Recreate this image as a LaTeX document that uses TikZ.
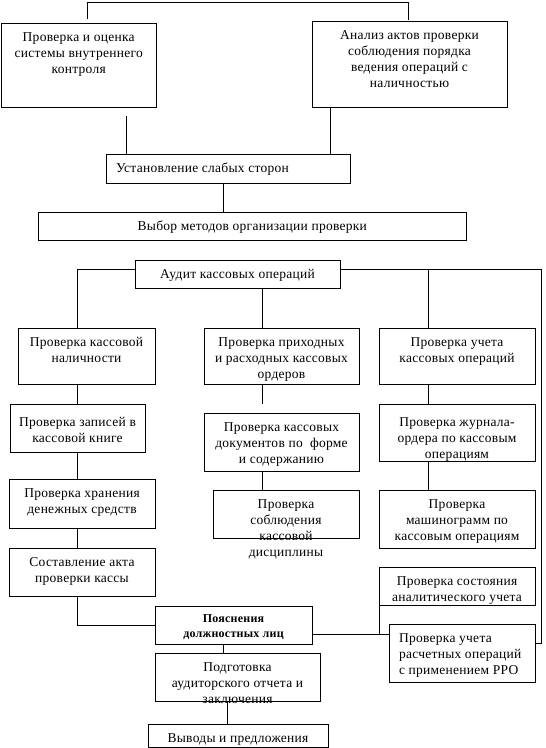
\documentclass[tikz,border=0pt]{standalone}
\usepackage{fontspec}
\setmainfont[LetterSpace=2]{Liberation Serif}
\tikzset{
  box/.style={draw, line width=0.9pt, inner sep=0pt, outer sep=0pt, font=\fontsize{13.5}{16}\selectfont},
  conn/.style={line width=0.9pt}
}
% name, x1, y1, x2, y2, alignment, text
\newcommand\Bx[7]{%
  \node[box, anchor=north west] (#1) at (#2pt,-#3pt)
  {\parbox[c][\dimexpr #5pt-#3pt\relax][t]{\dimexpr #4pt-#2pt\relax}{\vspace*{8.5pt}#6\rule{0pt}{9.5pt}#7}};}
\begin{document}
\begin{tikzpicture}
\fill[white] (0,0) rectangle (546pt,-748pt);
\useasboundingbox (0,0) rectangle (546pt,-748pt);

\Bx{A}{1.4}{23}{156}{107}{\centering}{Проверка и оценка\\системы внутреннего\\контроля}
\Bx{B}{312}{21}{507}{107}{\centering}{Анализ актов проверки\\соблюдения порядка\\ведения операций с\\наличностью}
\Bx{C}{106}{154}{350}{183}{\raggedright\leftskip=10pt}{Установление слабых сторон}
\Bx{D}{38}{212}{466.6}{240}{\centering}{Выбор методов организации проверки}
\Bx{E}{135}{260}{340}{288}{\centering}{Аудит кассовых операций}
\Bx{F}{18}{328}{155}{384}{\centering}{Проверка кассовой\\наличности}
\Bx{G}{204}{328}{359}{384}{\centering}{Проверка приходных\\и расходных кассовых\\ордеров}
\Bx{H}{379}{328}{535}{384}{\centering}{Проверка учета\\кассовых операций}
\Bx{I}{10}{404}{145}{452}{\centering\vspace*{4pt}}{Проверка записей в\\кассовой книге}
\Bx{J}{204}{413}{359}{471}{\centering}{Проверка кассовых\\документов по \ форме\\и содержанию}
\Bx{K}{379}{404}{535}{461}{\centering\vspace*{4pt}}{Проверка журнала-\\ордера по кассовым\\операциям}
\Bx{L}{9}{479}{155}{528}{\centering}{Проверка хранения\\денежных средств}
\Bx{M}{213}{490}{359}{538}{\centering}{Проверка\\соблюдения\\кассовой\\дисциплины}
\Bx{N}{379}{490}{535}{548}{\centering}{Проверка\\машинограмм по\\кассовым операциям}
\Bx{O}{9}{548}{155}{596}{\centering}{Составление акта\\проверки кассы}
\Bx{R}{379}{567}{535}{605}{\centering}{Проверка состояния\\аналитического учета}
\Bx{Q}{155}{606}{312}{644}{\centering\vspace*{-2pt}\bfseries\fontsize{12}{15}\selectfont}{Пояснения\\должностных лиц}
\Bx{P}{389}{624}{535}{682}{\raggedright\leftskip=10pt}{Проверка учета\\расчетных операций\\с применением РРО}
\Bx{S}{155}{653}{320}{701}{\centering}{Подготовка\\аудиторского отчета и\\заключения}
\Bx{T}{148}{724}{328}{747}{\centering}{Выводы и предложения}

% connectors
\draw[conn] ([xshift=85.6pt,yshift=4pt]A.north west) -- ++(0,17pt) -| ([xshift=96pt,yshift=1pt]B.north west);
\draw[conn] ([xshift=124.6pt,yshift=-9pt]A.south west) coordinate (t1) -- (t1 |- C.north);
\draw[conn] ([xshift=18pt]B.south west) coordinate (t2) -- (t2 |- C.north);
\draw[conn] ([xshift=117pt]C.south west) coordinate (t3) -- (t3 |- D.north);

\coordinate (er) at ([yshift=5pt]E.east);
\coordinate (el) at ([yshift=5pt]E.west);
\draw[conn] (el) -| ([xshift=59pt]F.north west);
\draw[conn] (er) -| ([xshift=6pt,yshift=10pt]P.east) -- ([yshift=10pt]P.east);
\draw[conn] ([xshift=49pt]H.north west) coordinate (t4) -- (t4 |- er);
\draw[conn] ([xshift=58pt]G.north west) coordinate (t5) -- (t5 |- E.south);

\draw[conn] ([xshift=59pt]F.south west) coordinate (t6) -- (t6 |- I.north);
\draw[conn] ([xshift=58pt]G.south west) -- ++(0,-20pt);
\draw[conn] ([xshift=49pt]H.south west) coordinate (t7) -- (t7 |- K.north);

\draw[conn] ([xshift=67pt]I.south west) coordinate (t8) -- (t8 |- L.north);
\draw[conn] ([xshift=58pt]J.south west) coordinate (t9) -- (t9 |- M.north);
\draw[conn] ([xshift=49pt]K.south west) coordinate (t10) -- (t10 |- N.north);

\draw[conn] ([xshift=68pt]L.south west) coordinate (t11) -- (t11 |- O.north);
\draw[conn] ([xshift=68pt]O.south west) |- (Q.west);

\coordinate (qe) at ([yshift=-9pt]Q.east);
\draw[conn] (qe) -- (qe -| P.west);
\draw[conn] (R.south west) -- (R.south west |- qe);

\draw[conn] ([xshift=68pt]S.north west) coordinate (t12) -- (t12 |- Q.south);
\draw[conn] ([xshift=72pt]S.south west) coordinate (t13) -- (t13 |- T.north);
\end{tikzpicture}
\end{document}
